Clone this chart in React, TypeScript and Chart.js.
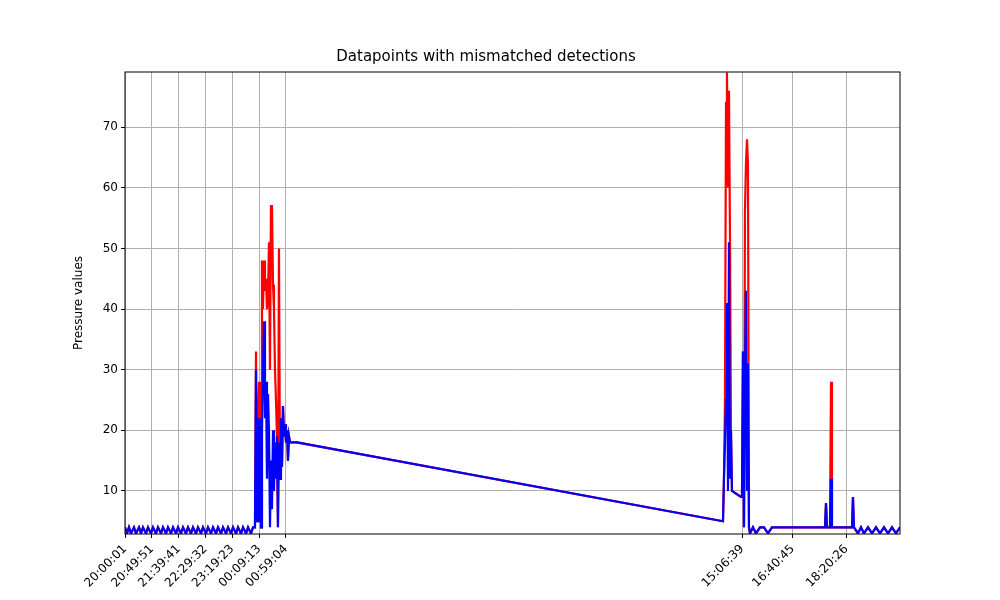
import { useEffect, useRef } from "react";
import { Chart, registerables } from "chart.js";

Chart.register(...registerables);

// elapsed minutes since 20:00:01
const times = [
  0, 3.7, 7.4, 11.1, 16.7, 20.4, 26, 29.7, 33.4, 39, 42.7, 48.3, 52, 57.5, 61.3, 66.9, 70.6, 76.2, 79.9, 85.5,
  89.2, 94.8, 98.5, 104, 107.8, 113.3, 117, 122.6, 126.3, 131.9, 135.6, 141.2, 144.9, 150.5, 154.2, 159.8,
  163.5, 169.1, 172.8, 178.4, 182.1, 187.7, 191.4, 197, 200.7, 206.3, 210, 215.6, 219.3, 224.9, 228.6, 234.1,
  237.9,
  241.5, 243.4, 245.3, 247.1, 249, 250.8, 252.7, 254.5, 256.4, 258.3, 260.1, 262, 263.8, 265.7, 267.5, 269.4,
  271.2, 273.1, 275, 276.8, 278.7, 280.5, 282.4, 284.2, 286.1, 288, 289.8, 291.7, 293.5, 295.4, 297.3, 299.1,
  301, 302.8, 304.7, 306.6, 319.6,
  1111.1, 1112.9, 1114.8, 1116.7, 1118.5, 1120.4, 1122.2, 1124.1, 1125.9, 1127.8, 1144.5, 1146.4, 1148.2,
  1150.1, 1151.9, 1153.8, 1155.7, 1157.5, 1159.4, 1161.3,
  1166.8, 1172.4, 1179.8, 1187.3, 1194.7, 1202.1, 1213.3, 1224.4, 1235.6, 1246.7, 1257.9, 1269, 1280.2,
  1291.3, 1300.6, 1302.5, 1304.3, 1309.9, 1311.8, 1313.6, 1328.5, 1350.8, 1352.6, 1354.5, 1361.9, 1367.5,
  1373.1, 1380.5, 1388, 1395.4, 1402.8, 1410.2, 1417.7, 1425.1, 1432.5, 1440,
];

const blueValues = [
  4, 3, 4, 3, 4, 3, 4, 3, 4, 3, 4, 3, 4, 3, 4, 3, 4, 3, 4, 3,
  4, 3, 4, 3, 4, 3, 4, 3, 4, 3, 4, 3, 4, 3, 4, 3,
  4, 3, 4, 3, 4, 3, 4, 3, 4, 3, 4, 3, 4, 3, 4, 3,
  4,
  4, 30, 5, 22, 5, 22, 4, 20, 30, 38, 22, 28, 12, 26, 20, 4,
  15, 7, 20, 10, 18, 12, 19, 4, 18, 12, 22, 14, 24, 19, 21, 18,
  20, 15, 19, 18, 18,
  5, 12, 18, 25, 41, 10, 51, 12, 20, 10, 9, 9, 33,
  4, 28, 43, 10, 31, 4, 3,
  4, 3, 4, 4, 3, 4, 4, 4, 4, 4, 4, 4, 4,
  4, 4, 8, 4, 4, 12, 4, 4, 4, 9, 4, 3, 4,
  3, 4, 3, 4, 3, 4, 3, 4, 3, 4,
];

const redValues = [
  4, 3, 4, 3, 4, 3, 4, 3, 4, 3, 4, 3, 4, 3, 4, 3, 4, 3, 4, 3,
  4, 3, 4, 3, 4, 3, 4, 3, 4, 3, 4, 3, 4, 3, 4, 3,
  4, 3, 4, 3, 4, 3, 4, 3, 4, 3, 4, 3, 4, 3, 4, 3,
  4,
  4, 33, 5, 22, 28, 22, 4, 48, 40, 48, 43, 45, 40, 42, 51, 30,
  57, 57, 44, 40, 30, 25, 19, 4, 50, 12, 22, 14, 24, 19, 21, 18,
  20, 15, 19, 18, 18,
  5, 12, 25, 74, 79, 60, 76, 52, 20, 10, 9, 9, 33,
  4, 56, 64, 68, 64, 4, 3,
  4, 3, 4, 4, 3, 4, 4, 4, 4, 4, 4, 4, 4,
  4, 4, 8, 4, 4, 28, 4, 4, 4, 9, 4, 3, 4,
  3, 4, 3, 4, 3, 4, 3, 4, 3, 4,
];

const tickMinutes = [0, 49.83, 99.67, 149.52, 199.37, 249.2, 299.05, 1146.63, 1240.73, 1340.42];
const tickLabels = [
  "20:00:01", "20:49:51", "21:39:41", "22:29:32", "23:19:23",
  "00:09:13", "00:59:04", "15:06:39", "16:40:45", "18:20:26",
];
const yTicks = [10, 20, 30, 40, 50, 60, 70];

const frame = {
  id: "frame",
  afterDraw(chart: Chart) {
    const { ctx, chartArea: a } = chart;
    ctx.save();
    ctx.strokeStyle = "#000";
    ctx.lineWidth = 1;
    ctx.strokeRect(a.left, a.top, a.right - a.left, a.bottom - a.top);
    ctx.restore();
  },
};

export default function App() {
  const ref = useRef<HTMLCanvasElement>(null);

  useEffect(() => {
    if (!ref.current) return;
    document.body.style.margin = "0";
    const toPts = (vals: number[]) => times.map((t, i) => ({ x: t, y: vals[i] }));
    const chart = new Chart(ref.current, {
      type: "line",
      data: {
        datasets: [
          { data: toPts(blueValues), borderColor: "#0000ff", borderWidth: 2.2, pointRadius: 0, tension: 0 },
          { data: toPts(redValues), borderColor: "#ff0000", borderWidth: 2.2, pointRadius: 0, tension: 0 },
        ],
      },
      plugins: [frame],
      options: {
        animation: false,
        responsive: false,
        layout: { padding: { left: 72, right: 100 } },
        plugins: {
          legend: { display: false },
          tooltip: { enabled: false },
          title: {
            display: true,
            text: "Datapoints with mismatched detections",
            color: "#000",
            font: { family: "DejaVu Sans", size: 15, weight: "normal" },
            padding: { top: 48, bottom: 6 },
          },
        },
        scales: {
          x: {
            type: "linear",
            min: 0,
            max: 1440,
            afterBuildTicks: (s: any) => {
              s.ticks = tickMinutes.map((v) => ({ value: v }));
            },
            afterFit: (s: any) => {
              s.height = 66;
            },
            ticks: {
              autoSkip: false,
              maxRotation: 45,
              minRotation: 45,
              padding: 4,
              color: "#000",
              font: { family: "DejaVu Sans", size: 12 },
              callback: (_v: any, i: number) => tickLabels[i],
            },
            grid: { color: "#b0b0b0", tickColor: "#000", tickLength: 4 },
            border: { display: false },
          },
          y: {
            min: 2.9,
            max: 79.1,
            afterBuildTicks: (s: any) => {
              s.ticks = yTicks.map((v) => ({ value: v }));
            },
            afterFit: (s: any) => {
              s.width = 53;
            },
            ticks: { color: "#000", font: { family: "DejaVu Sans", size: 12 } },
            grid: { color: "#b0b0b0", tickColor: "#000", tickLength: 4 },
            border: { display: false },
            title: {
              display: true,
              text: "Pressure values",
              color: "#000",
              padding: 0,
              font: { family: "DejaVu Sans", size: 12 },
            },
          },
        },
      },
    });
    return () => chart.destroy();
  }, []);

  return <canvas ref={ref} width={1000} height={600} />;
}
